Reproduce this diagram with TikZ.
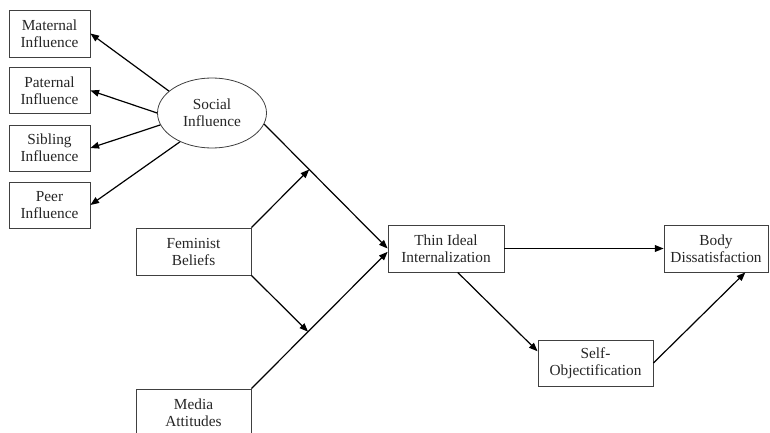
\documentclass[tikz,border=0pt]{standalone}
\usepackage{fontspec}
\setmainfont{Liberation Serif}
\usetikzlibrary{shapes.geometric,arrows.meta,calc}
\tikzset{
  box/.style={draw=black!75,line width=0.6pt,rectangle,align=center,inner sep=1pt,
    font=\fontsize{11.5}{12.75}\selectfont,text=black!85},
  oval/.style={draw=black!75,line width=0.6pt,ellipse,align=center,inner sep=0pt,
    minimum width=81.75pt,minimum height=52.5pt,font=\fontsize{11.5}{12.75}\selectfont,text=black!85},
  arr/.style={line width=0.9pt,-{Triangle[length=6.5pt,width=5pt]}},
  ln/.style={line width=0.9pt}
}
\begin{document}
\begin{tikzpicture}[x=0.75pt,y=-0.75pt]
\clip (0,0) rectangle (770,432);
\fill[white] (0,0) rectangle (770,432);
% left boxes
\node[box,minimum width=60.75pt,minimum height=35.25pt] (mat) at (49.5,33.5) {Maternal\\Influence};
\node[box,minimum width=60.75pt,minimum height=34.5pt] (pat) at (49.5,90.5) {Paternal\\Influence};
\node[box,minimum width=60.75pt,minimum height=34.5pt] (sib) at (49.5,148) {Sibling\\Influence};
\node[box,minimum width=60.75pt,minimum height=34.5pt] (peer) at (49.5,205) {Peer\\Influence};
\node[oval] (soc) at (212,113) {Social\\Influence};
\node[box,minimum width=86.25pt,minimum height=35.25pt] (fem) at (193.5,251.5) {Feminist\\Beliefs};
\node[box,minimum width=86.25pt,minimum height=35.25pt] (med) at (193.5,412.5) {Media\\Attitudes};
\node[box,minimum width=87pt,minimum height=35.25pt] (thin) at (446,248.5) {Thin Ideal\\Internalization};
\node[box,minimum width=78pt,minimum height=35.25pt] (body) at (716,248.5) {Body\\Dissatisfaction};
\node[box,minimum width=86.25pt,minimum height=34.5pt] (self) at (595.5,363) {Self-\\Objectification};
% social influence indicators
\draw[arr] (soc.153) -- (mat.east);
\draw[arr] (soc.west) -- (pat.east);
\draw[arr] (soc.193) -- (sib.east);
\draw[arr] (soc.222) -- (peer.east);
% moderation paths
\coordinate (sa) at (soc.-12);
\coordinate (ta) at ($(thin.north west)!0.5!(thin.south west)$);
\coordinate (tb) at ($(thin.north west)!0.57!(thin.south west)$);
\draw[arr] (sa) -- (ta);
\coordinate (m1) at ($(sa)!0.365!(ta)$);
\draw[arr] (med.north east) -- (tb);
\coordinate (m2) at ($(med.north east)!0.416!(tb)$);
\draw[arr] (fem.north east) -- (m1);
\draw[arr] (fem.south east) -- (m2);
% right paths
\draw[arr] (thin.east) -- (body.west);
\draw[arr] ($(thin.south west)!0.6!(thin.south east)$) -- ($(self.north west)!0.25!(self.south west)$);
\draw[arr] (self.east) -- ($(body.south west)!0.78!(body.south east)$);
\end{tikzpicture}
\end{document}
